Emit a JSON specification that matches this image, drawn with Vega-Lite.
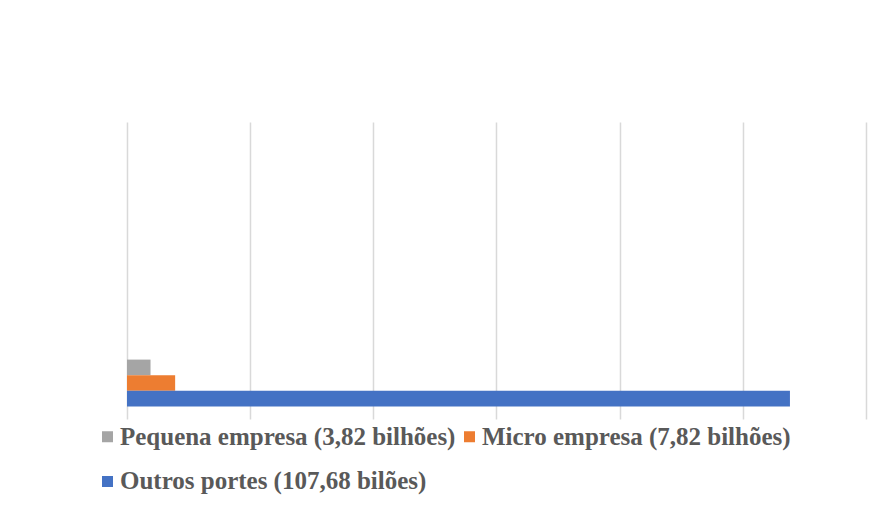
{
  "$schema": "https://vega.github.io/schema/vega-lite/v6.json",
  "width": 738.8,
  "height": 297,
  "autosize": {"type": "none"},
  "padding": {"left": 127, "top": 122, "right": 22, "bottom": 86},
  "background": "white",
  "config": {"view": {"stroke": null}},
  "data": {"values": [
    {"serie": "Pequena empresa (3,82 bilhões)", "valor": 3.82},
    {"serie": "Micro empresa (7,82 bilhões)", "valor": 7.82},
    {"serie": "Outros portes (107,68 bilões)", "valor": 107.68}
  ]},
  "mark": {"type": "bar", "cornerRadius": 0},
  "encoding": {
    "y": {
      "field": "serie", "type": "nominal",
      "scale": {
        "domain": ["v01", "v02", "v03", "v04", "v05", "v06", "v07", "v08", "v09", "v10", "v11", "v12", "v13", "v14", "v15", "Pequena empresa (3,82 bilhões)", "Micro empresa (7,82 bilhões)", "Outros portes (107,68 bilões)"],
        "paddingInner": 0, "paddingOuter": 0.5, "align": 0.2
      },
      "axis": null
    },
    "x": {
      "field": "valor", "type": "quantitative",
      "scale": {"domain": [0, 120], "nice": false, "zero": true},
      "axis": {"values": [0, 20, 40, 60, 80, 100, 120], "labels": false, "ticks": false, "domain": false, "title": null, "grid": true, "gridColor": "#d9d9d9", "gridWidth": 1.5}
    },
    "color": {
      "field": "serie", "type": "nominal",
      "scale": {
        "domain": ["Pequena empresa (3,82 bilhões)", "Micro empresa (7,82 bilhões)", "Outros portes (107,68 bilões)"],
        "range": ["#A5A5A5", "#ED7D31", "#4472C4"]
      },
      "legend": {
        "title": null,
        "orient": "none",
        "legendX": -32,
        "legendY": 302,
        "columns": 2,
        "direction": "horizontal",
        "symbolType": "square",
        "symbolSize": 121,
        "symbolStrokeWidth": 0,
        "labelFont": "Liberation Serif",
        "labelFontWeight": "bold",
        "labelFontSize": 25,
        "labelColor": "#595959",
        "labelLimit": 0,
        "labelOffset": 0,
        "columnPadding": 1,
        "rowPadding": 19
      }
    }
  }
}
